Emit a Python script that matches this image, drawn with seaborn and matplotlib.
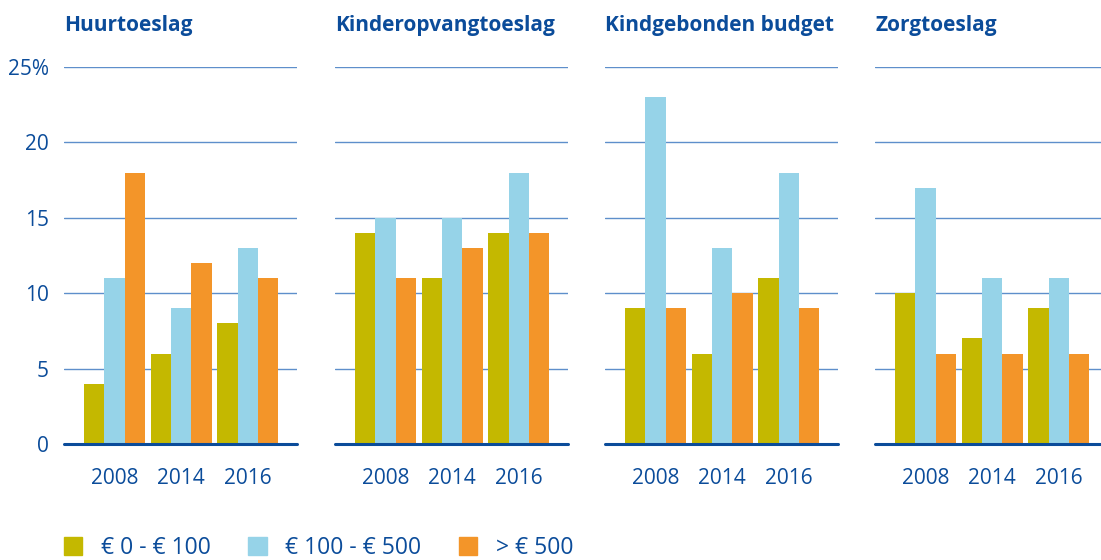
import pandas as pd
import matplotlib.pyplot as plt
import matplotlib.patches as mpatches
import seaborn as sns

panels = ["Huurtoeslag", "Kinderopvangtoeslag", "Kindgebonden budget", "Zorgtoeslag"]
years = ["2008", "2014", "2016"]
groups = ["€ 0 - € 100", "€ 100 - € 500", "> € 500"]

# values per panel: one list per income group, ordered by year
huurtoeslag = [[4, 6, 8], [11, 9, 13], [18, 12, 11]]
kinderopvang = [[14, 11, 14], [15, 15, 18], [11, 13, 14]]
kindgebonden = [[9, 6, 11], [23, 13, 18], [9, 10, 9]]
zorgtoeslag = [[10, 7, 9], [17, 11, 11], [6, 6, 6]]

y_ticks = [0, 5, 10, 15, 20, 25]
y_labels = ["0", "5", "10", "15", "20", "25%"]

COLORS = ["#C4B800", "#96D3E8", "#F39529"]
TEXT = "#0B4C9A"
GRID = "#5E8FCB"

rows = []
for panel, vals in zip(panels, [huurtoeslag, kinderopvang, kindgebonden, zorgtoeslag]):
    for g, series in zip(groups, vals):
        for y, v in zip(years, series):
            rows.append({"panel": panel, "group": g, "year": y, "value": v})
df = pd.DataFrame(rows)

sns.set_style("white")
plt.rcParams["font.family"] = ["Open Sans", "DejaVu Sans"]

fig = plt.figure(figsize=(11.01, 5.6), dpi=100)
lefts = [64, 335, 605, 875]
for i, panel in enumerate(panels):
    ax = fig.add_axes([lefts[i] / 1101, 1 - 444 / 560, 233 / 1101, 377 / 560])
    sns.barplot(
        data=df[df["panel"] == panel], x="year", y="value", hue="group",
        order=years, hue_order=groups, palette=COLORS, width=0.92,
        saturation=1, legend=False, ax=ax,
    )
    for p in ax.patches:
        p.set_edgecolor("none")
    ax.set_xlim(-0.76, 2.74)
    ax.set_ylim(0, 25)
    ax.set_yticks(y_ticks)
    for t in y_ticks[1:]:
        ax.axhline(t, color=GRID, lw=1.0, zorder=0)
    ax.axhline(0, color=TEXT, lw=2.2, zorder=3, clip_on=False)
    sns.despine(ax=ax, left=True, bottom=True)
    ax.set_xlabel("")
    ax.set_ylabel("")
    ax.tick_params(axis="x", length=0, pad=17, labelsize=15, labelcolor=TEXT)
    ax.tick_params(axis="y", length=0, pad=11, labelsize=15, labelcolor=TEXT)
    if i == 0:
        ax.set_yticklabels(y_labels)
    else:
        ax.set_yticklabels([])
    ax.set_title(panel, loc="left", fontsize=15, fontweight="bold", color=TEXT, pad=26)

handles = [mpatches.Patch(color=c, label=g) for c, g in zip(COLORS, groups)]
fig.legend(
    handles=handles, loc="lower left", bbox_to_anchor=(64 / 1101, 0.0), ncol=3,
    frameon=False, fontsize=16.5, labelcolor=TEXT, handlelength=0.8, handleheight=0.8,
    columnspacing=1.65, handletextpad=0.8, borderpad=0, borderaxespad=0,
)

fig.savefig("out.png", dpi=100)
